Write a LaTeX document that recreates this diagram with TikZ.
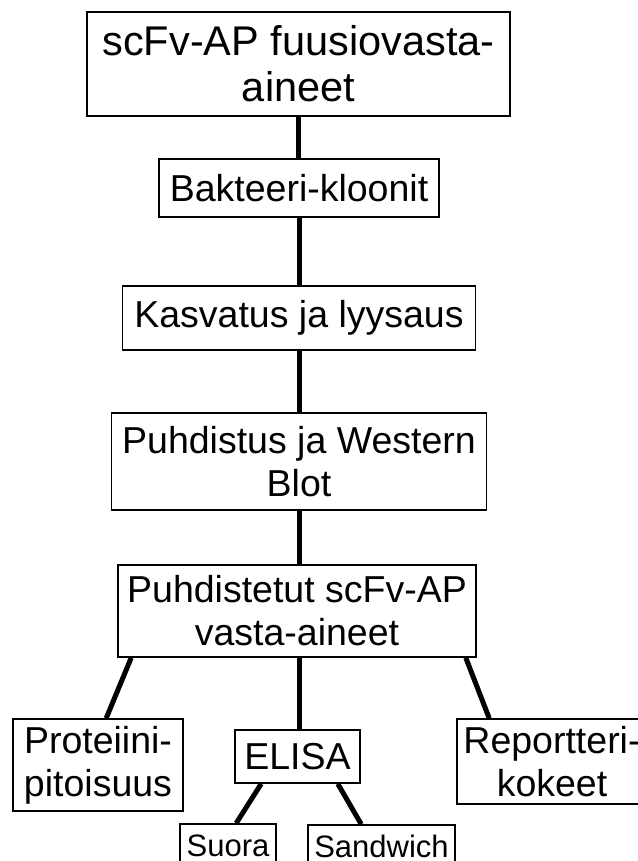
\documentclass[tikz,border=0pt]{standalone}
\usepackage{fontspec}
\setmainfont{Liberation Sans}
\usepackage{tikz}

\begin{document}
\begin{tikzpicture}[x=1pt, y=-1pt,
  box/.style={draw, line width=1.6pt, inner sep=0pt, align=center,
    font=\fontsize{37.5}{43}\selectfont},
  smallbox/.style={box, font=\fontsize{31}{35}\selectfont},
  link/.style={line width=5pt}]
  \useasboundingbox (0,0) rectangle (637,861);
  % main column
  \node[box, minimum width=423pt, minimum height=104pt,
    font=\fontsize{41.5}{46}\selectfont] (fusion) at (298.5,64) {scFv-AP fuusiovasta-\\aineet};
  \node[box, minimum width=280pt, minimum height=58pt] (clones) at (299,188) {Bakteeri-kloonit};
  \node[box, minimum width=353pt, minimum height=64pt] (growth) at (299,318) {Kasvatus ja lyysaus};
  \node[box, minimum width=375pt, minimum height=97pt] (purif) at (299,461.5) {Puhdistus ja Western\\Blot};
  \node[box, minimum width=358pt, minimum height=92pt] (purified) at (297,611) {Puhdistetut scFv-AP\\vasta-aineet};
  % uses
  \node[box, minimum width=170pt, minimum height=92pt] (protein) at (98,765) {Proteiini-\\pitoisuus};
  \node[box, minimum width=125pt, minimum height=53pt] (elisa) at (297.5,756.5) {ELISA};
  \node[box, minimum width=190pt, minimum height=85pt] (reporter) at (552,761.5) {Reportteri-\\kokeet};
  \node[smallbox, minimum width=96pt, minimum height=44pt] (direct) at (228,846) {Suora};
  \node[smallbox, minimum width=147pt, minimum height=43pt] (sandwich) at (381.5,846.5) {Sandwich};

  \draw[link] (fusion.south) -- (fusion.south |- clones.north);
  \draw[link] (clones.south) -- (clones.south |- growth.north);
  \draw[link] (growth.south) -- (growth.south |- purif.north);
  \draw[link] (purif.south) -- (purif.south |- purified.north);
  \draw[link] ([xshift=14pt]purified.south west) -- ([xshift=94pt]protein.north west);
  \draw[link] ([xshift=2pt]purified.south) -- ([xshift=2pt]purified.south |- elisa.north);
  \draw[link] ([xshift=-11pt]purified.south east) -- ([xshift=33pt]reporter.north west);
  \draw[link] ([xshift=27pt]elisa.south west) -- ([xshift=57pt]direct.north west);
  \draw[link] ([xshift=-23pt]elisa.south east) -- ([xshift=54pt]sandwich.north west);
\end{tikzpicture}
\end{document}
